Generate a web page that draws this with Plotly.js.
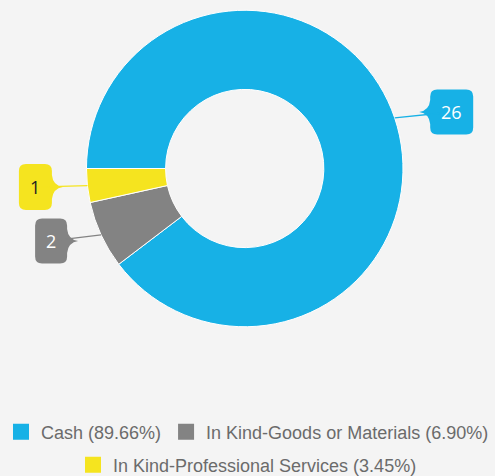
<!DOCTYPE html>
<html><head><meta charset="utf-8">
<script src="https://cdn.plot.ly/plotly-3.0.1.min.js"></script>
<style>html,body{margin:0;padding:0;background:#f4f4f4;}</style>
</head><body><div id="chart" style="width:495px;height:476px;"></div>
<script>
// ---- data ----
const categories = ['Cash', 'In Kind-Goods or Materials', 'In Kind-Professional Services'];
const values = [26, 2, 1];
const sliceColors = ['#17b1e6', '#838383', '#f5e41f'];
const calloutTextColors = ['#ffffff', '#ffffff', '#222222'];
const legendRows = ['legend', 'legend', 'legend2'];

// ---- layout / style ----
const W = 495, H = 476;
const domainX = [0.1747, 0.8141];
const domainY = [0.313, 0.979];
const hole = 0.5;
const rotation = -90;
// label box centre offset from slice anchor (px, screen), and box size (Cash, Goods, Professional)
const calloutOffsets = [[57, -6], [-50, 6], [-52, 1.5]];
const calloutSizes = [[43, 45], [32, 45], [33, 46]];

const total = values.reduce((a, b) => a + b, 0);
const legendNames = categories.map((c, i) => c + ' (' + (values[i] / total * 100).toFixed(2) + '%)');

const traces = [{
  type: 'pie', labels: categories, values: values, hole: hole, sort: false,
  direction: 'clockwise', rotation: rotation,
  domain: {x: domainX, y: domainY},
  marker: {colors: sliceColors, line: {color: '#ffffff', width: 1}},
  textinfo: 'none', hoverinfo: 'label+value+percent', showlegend: false
}];
categories.forEach((c, i) => {
  traces.push({
    type: 'scatter', mode: 'markers', x: [null], y: [null], name: legendNames[i],
    marker: {symbol: 'square', size: 16, color: sliceColors[i], line: {width: 0}},
    legend: legendRows[i], hoverinfo: 'skip'
  });
});

// anchors on slice outer edge from data
const cxp = (domainX[0] + domainX[1]) / 2, cyp = (domainY[0] + domainY[1]) / 2;
const rpx = Math.min((domainX[1] - domainX[0]) * W, (domainY[1] - domainY[0]) * H) / 2;
const annotations = [], shapes = [];
let cum = 0;
values.forEach((v, i) => {
  const a = (rotation + (cum + v / 2) / total * 360) * Math.PI / 180;
  cum += v;
  const xa = cxp + rpx * Math.sin(a) / W;
  const ya = cyp + rpx * Math.cos(a) / H;
  const [dx, dy] = calloutOffsets[i];
  const [w, h] = calloutSizes[i];
  const side = dx > 0 ? 'left' : 'right';
  const rr = 7, d = 11, b = 12;
  const L = dx - w / 2, R = dx + w / 2, T = dy - h / 2, B = dy + h / 2, py = dy;
  const P = (x, y) => x.toFixed(2) + ',' + (-y).toFixed(2);
  let p = 'M' + P(L + rr, T) + ' L' + P(R - rr, T) + ' Q' + P(R, T) + ' ' + P(R, T + rr);
  if (side === 'right') p += ' L' + P(R, py - b) + ' Q' + P(R + 1, py - 1.5) + ' ' + P(R + d, py) + ' Q' + P(R + 1, py + 1.5) + ' ' + P(R, py + b);
  p += ' L' + P(R, B - rr) + ' Q' + P(R, B) + ' ' + P(R - rr, B) + ' L' + P(L + rr, B) + ' Q' + P(L, B) + ' ' + P(L, B - rr);
  if (side === 'left') p += ' L' + P(L, py + b) + ' Q' + P(L - 1, py + 1.5) + ' ' + P(L - d, py) + ' Q' + P(L - 1, py - 1.5) + ' ' + P(L, py - b);
  p += ' L' + P(L, T + rr) + ' Q' + P(L, T) + ' ' + P(L + rr, T) + ' Z';
  shapes.push({type: 'path', xref: 'paper', yref: 'paper', xsizemode: 'pixel', ysizemode: 'pixel',
    xanchor: xa, yanchor: ya, path: p, fillcolor: sliceColors[i], line: {width: 0}, layer: 'above'});
  annotations.push({xref: 'paper', yref: 'paper', x: xa, y: ya, ax: dx, ay: dy,
    text: String(v), showarrow: true, arrowhead: 0, arrowwidth: 1.3, arrowcolor: sliceColors[i], standoff: 0,
    font: {family: 'Open Sans, sans-serif', size: 18, color: calloutTextColors[i]}});
});

const legendFont = {family: 'Liberation Sans, Arial, sans-serif', size: 18, color: '#6b6b6b'};
const layout = {
  width: W, height: H, autosize: false,
  margin: {l: 0, r: 0, t: 0, b: 0, autoexpand: false},
  paper_bgcolor: '#f4f4f4', plot_bgcolor: '#f4f4f4',
  xaxis: {visible: false}, yaxis: {visible: false},
  showlegend: true,
  legend: {orientation: 'h', x: 0.5, xanchor: 'center', y: 1 - 432 / H, yanchor: 'middle', font: legendFont, bgcolor: 'rgba(0,0,0,0)'},
  legend2: {orientation: 'h', x: 0.5, xanchor: 'center', y: 1 - 465 / H, yanchor: 'middle', font: legendFont, bgcolor: 'rgba(0,0,0,0)'},
  shapes: shapes, annotations: annotations
};
Plotly.newPlot('chart', traces, layout, {displayModeBar: false, staticPlot: true});
</script></body></html>
